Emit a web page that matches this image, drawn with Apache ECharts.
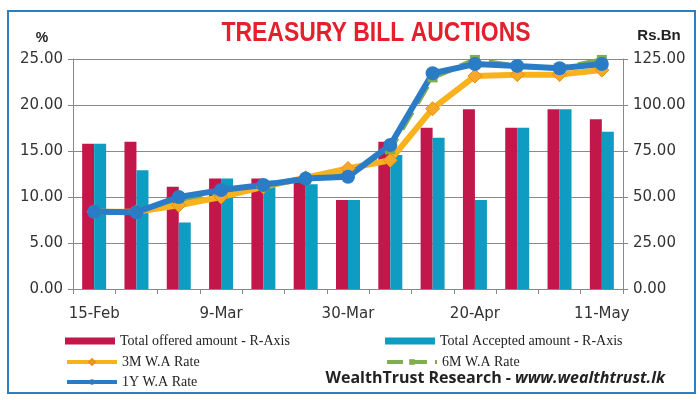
<!DOCTYPE html>
<html><head><meta charset="utf-8">
<script src="https://cdn.jsdelivr.net/npm/echarts@6/dist/echarts.min.js"></script>
<style>html,body{margin:0;padding:0;background:#fff}#c{width:700px;height:400px}</style>
</head><body><div id="c"></div>
<script>
const categories = ['15-Feb','23-Feb','2-Mar','9-Mar','16-Mar','23-Mar','30-Mar','6-Apr','13-Apr','20-Apr','27-Apr','4-May','11-May'];
const offered  = [79, 80, 55.6, 60, 60, 59.5, 48.4, 80, 87.7, 97.7, 87.7, 97.7, 92.2];
const accepted = [79, 64.5, 36.2, 60, 59, 56.9, 48.4, 72.8, 82.2, 48.4, 87.7, 97.7, 85.5];
const rate3M = [8.4, 8.4, 9.1, 10.0, 11.1, 12.1, 13.1, 14.0, 19.6, 23.15, 23.3, 23.3, 23.8];
const rate6M = [8.4, 8.4, 9.7, 10.5, 11.2, 12.0, 12.4, 15.2, 23.0, 24.9, 24.2, 24.0, 24.9];
const rate1Y = [8.4, 8.35, 10.0, 10.75, 11.3, 12.0, 12.2, 15.65, 23.45, 24.45, 24.25, 24.0, 24.45];
const leftTicks = [0, 5, 10, 15, 20, 25];
const rightTicks = [0, 25, 50, 75, 100, 125];

const chart = echarts.init(document.getElementById('c'), null, {renderer:'canvas'});
const legendText = {fontFamily:'Liberation Serif', fontSize:14, color:'#222'};
const mkLegend = (name, left, top, icon) => ({
  data:[{name:name, icon:icon}], left:left, top:top, itemWidth:50, itemHeight:7, itemGap:4,
  textStyle: legendText, selectedMode:false, padding:0, lineStyle:{width:4}
});
const axisFont = {color:'#333', fontFamily:'DejaVu Sans', fontSize:15};
chart.setOption({
  animation:false,
  backgroundColor:'#fff',
  grid:{left:73, right:77, top:59, bottom:111},
  graphic:[
    {type:'rect', shape:{x:8, y:11, width:687, height:382}, style:{fill:'none', stroke:'#2d7fc1', lineWidth:2}},
    {type:'text', x:376, y:33, scaleX:0.82, style:{text:'TREASURY BILL AUCTIONS', align:'center', verticalAlign:'middle',
      font:'bold 28px "Liberation Sans"', fill:'#e3202c'}},
    {type:'text', x:42, y:38, style:{text:'%', align:'center', verticalAlign:'middle', font:'bold 14px "Liberation Sans"', fill:'#222'}},
    {type:'text', x:659, y:36, style:{text:'Rs.Bn', align:'center', verticalAlign:'middle', font:'bold 15px "Liberation Sans"', fill:'#222'}},
    {type:'text', x:665, y:378, style:{
      text:'{a|WealthTrust Research - }{b|www.wealthtrust.lk}', align:'right', verticalAlign:'middle',
      rich:{a:{fontFamily:'Open Sans', fontWeight:'bold', fontSize:16, fill:'#222'},
            b:{fontFamily:'Open Sans', fontWeight:'bold', fontStyle:'italic', fontSize:16, fill:'#222'}}}}
  ],
  legend:[
    mkLegend('Total offered amount - R-Axis', 65, 334, 'rect'),
    mkLegend('Total Accepted amount - R-Axis', 385, 334, 'rect'),
    mkLegend('3M W.A Rate', 65, 355),
    mkLegend('6M W.A Rate', 385, 355),
    mkLegend('1Y W.A Rate', 65, 375)
  ],
  xAxis:{
    type:'category', data:categories, boundaryGap:true,
    axisLine:{lineStyle:{color:'#888'}},
    axisTick:{show:true, length:5, interval:0, lineStyle:{color:'#888'}},
    axisLabel:Object.assign({interval:2, margin:18}, axisFont)
  },
  yAxis:[
    {type:'value', min:0, max:25, interval:5, position:'left',
     axisLine:{show:true, lineStyle:{color:'#888'}}, axisTick:{show:true, length:5, lineStyle:{color:'#888'}},
     splitLine:{lineStyle:{color:'#8a8a8a', width:1}},
     axisLabel:Object.assign({formatter:v=>v.toFixed(2), margin:10}, axisFont)},
    {type:'value', min:0, max:125, interval:25, position:'right',
     axisLine:{show:true, lineStyle:{color:'#888'}}, axisTick:{show:true, length:5, lineStyle:{color:'#888'}},
     splitLine:{show:false},
     axisLabel:Object.assign({formatter:v=>v.toFixed(2), margin:10}, axisFont)}
  ],
  series:[
    {name:'Total offered amount - R-Axis', type:'bar', yAxisIndex:1, data:offered, barWidth:12, barGap:'0%',
     itemStyle:{color:'#c2174a'}},
    {name:'Total Accepted amount - R-Axis', type:'bar', yAxisIndex:1, data:accepted, barWidth:12, barGap:'0%',
     itemStyle:{color:'#0e9cc2'}},
    {name:'6M W.A Rate', type:'line', yAxisIndex:0, data:rate6M, symbol:'rect', symbolSize:10,
     lineStyle:{color:'#7fae4f', width:5, type:'dashed'}, itemStyle:{color:'#7fae4f'}},
    {name:'3M W.A Rate', type:'line', yAxisIndex:0, data:rate3M, symbol:'diamond', symbolSize:14,
     lineStyle:{color:'#f8b21e', width:6}, itemStyle:{color:'#f7a826', borderColor:'#e8901a', borderWidth:1}},
    {name:'1Y W.A Rate', type:'line', yAxisIndex:0, data:rate1Y, symbol:'circle', symbolSize:14,
     lineStyle:{color:'#2b7cc6', width:6}, itemStyle:{color:'#2b7cc6'}}
  ]
});
</script></body></html>
